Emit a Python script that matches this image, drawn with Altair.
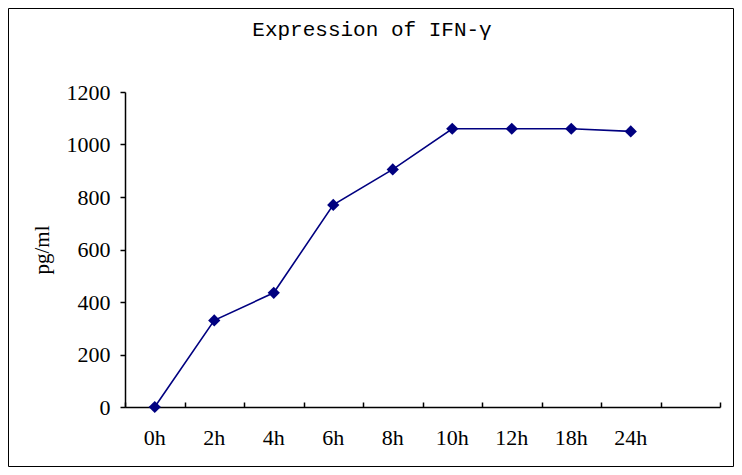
import altair as alt
import pandas as pd

categories = ["0h", "2h", "4h", "6h", "8h", "10h", "12h", "18h", "24h"]
values = [0, 330, 435, 770, 905, 1060, 1060, 1060, 1050]
x_domain = categories + [" "]
y_ticks = [0, 200, 400, 600, 800, 1000, 1200]
title_text = "Expression of IFN-γ"

df = pd.DataFrame({"time": categories, "value": values})

W, H = 595, 315
PL, PT, PR, PB = 117, 84, 14, 60

xscale = alt.Scale(domain=x_domain, paddingInner=0, paddingOuter=0)
yscale = alt.Scale(domain=[0, 1200])

serif = "Liberation Serif"

yaxis = alt.Axis(title="pg/ml", values=y_ticks, format="d", grid=False,
                 tickSize=5, tickColor="black", tickWidth=1.5,
                 domainColor="black", domainWidth=1.5,
                 labelFont=serif, labelFontSize=22, labelColor="black",
                 labelPadding=10, titleFont=serif, titleFontSize=21,
                 titleFontWeight="normal", titleColor="black",
                 titlePadding=14)

line = alt.Chart(df).mark_line(color="#000080", strokeWidth=1.6).encode(
    x=alt.X("time:N", scale=xscale, sort=x_domain,
            axis=alt.Axis(title=None, ticks=False, domain=True, domainColor="black",
                          domainWidth=1.5, orient="bottom", labelAngle=0,
                          labelFont=serif, labelFontSize=22, labelColor="black",
                          labelPadding=20)),
    y=alt.Y("value:Q", scale=yscale, axis=yaxis),
)

pts = alt.Chart(df).mark_point(shape="diamond", filled=True, color="#000080",
                               size=150, opacity=1).encode(
    x=alt.X("time:N", scale=xscale, sort=x_domain,
            axis=alt.Axis(title=None, labels=False, domain=False, ticks=True,
                          orient="bottom", tickBand="extent", tickSize=5,
                          tickColor="black", tickWidth=1.5, offset=-5)),
    y=alt.Y("value:Q", scale=yscale, axis=yaxis),
)

one = pd.DataFrame({"t": [title_text]})

border = alt.Chart(one).mark_rect(
    filled=False, stroke="black", strokeWidth=1, clip=False
).encode(
    x=alt.value(-PL + 0.5), x2=alt.value(W + PR - 0.5),
    y=alt.value(-PT + 0.5), y2=alt.value(H + PB - 0.5),
)

title = alt.Chart(one).mark_text(
    font="Liberation Mono", fontSize=21, color="black", align="center",
    baseline="middle", clip=False
).encode(text="t:N", x=alt.value(247), y=alt.value(-62))

chart = alt.layer(line, pts, border, title).resolve_axis(x="independent").properties(
    width=W, height=H,
    autosize=alt.AutoSizeParams(type="none"),
    padding={"left": PL, "top": PT, "right": PR, "bottom": PB},
).configure(background="white", view=alt.ViewConfig(stroke="transparent", strokeWidth=0))

chart.save("out.html", embed_options={"renderer": "svg", "actions": False})
